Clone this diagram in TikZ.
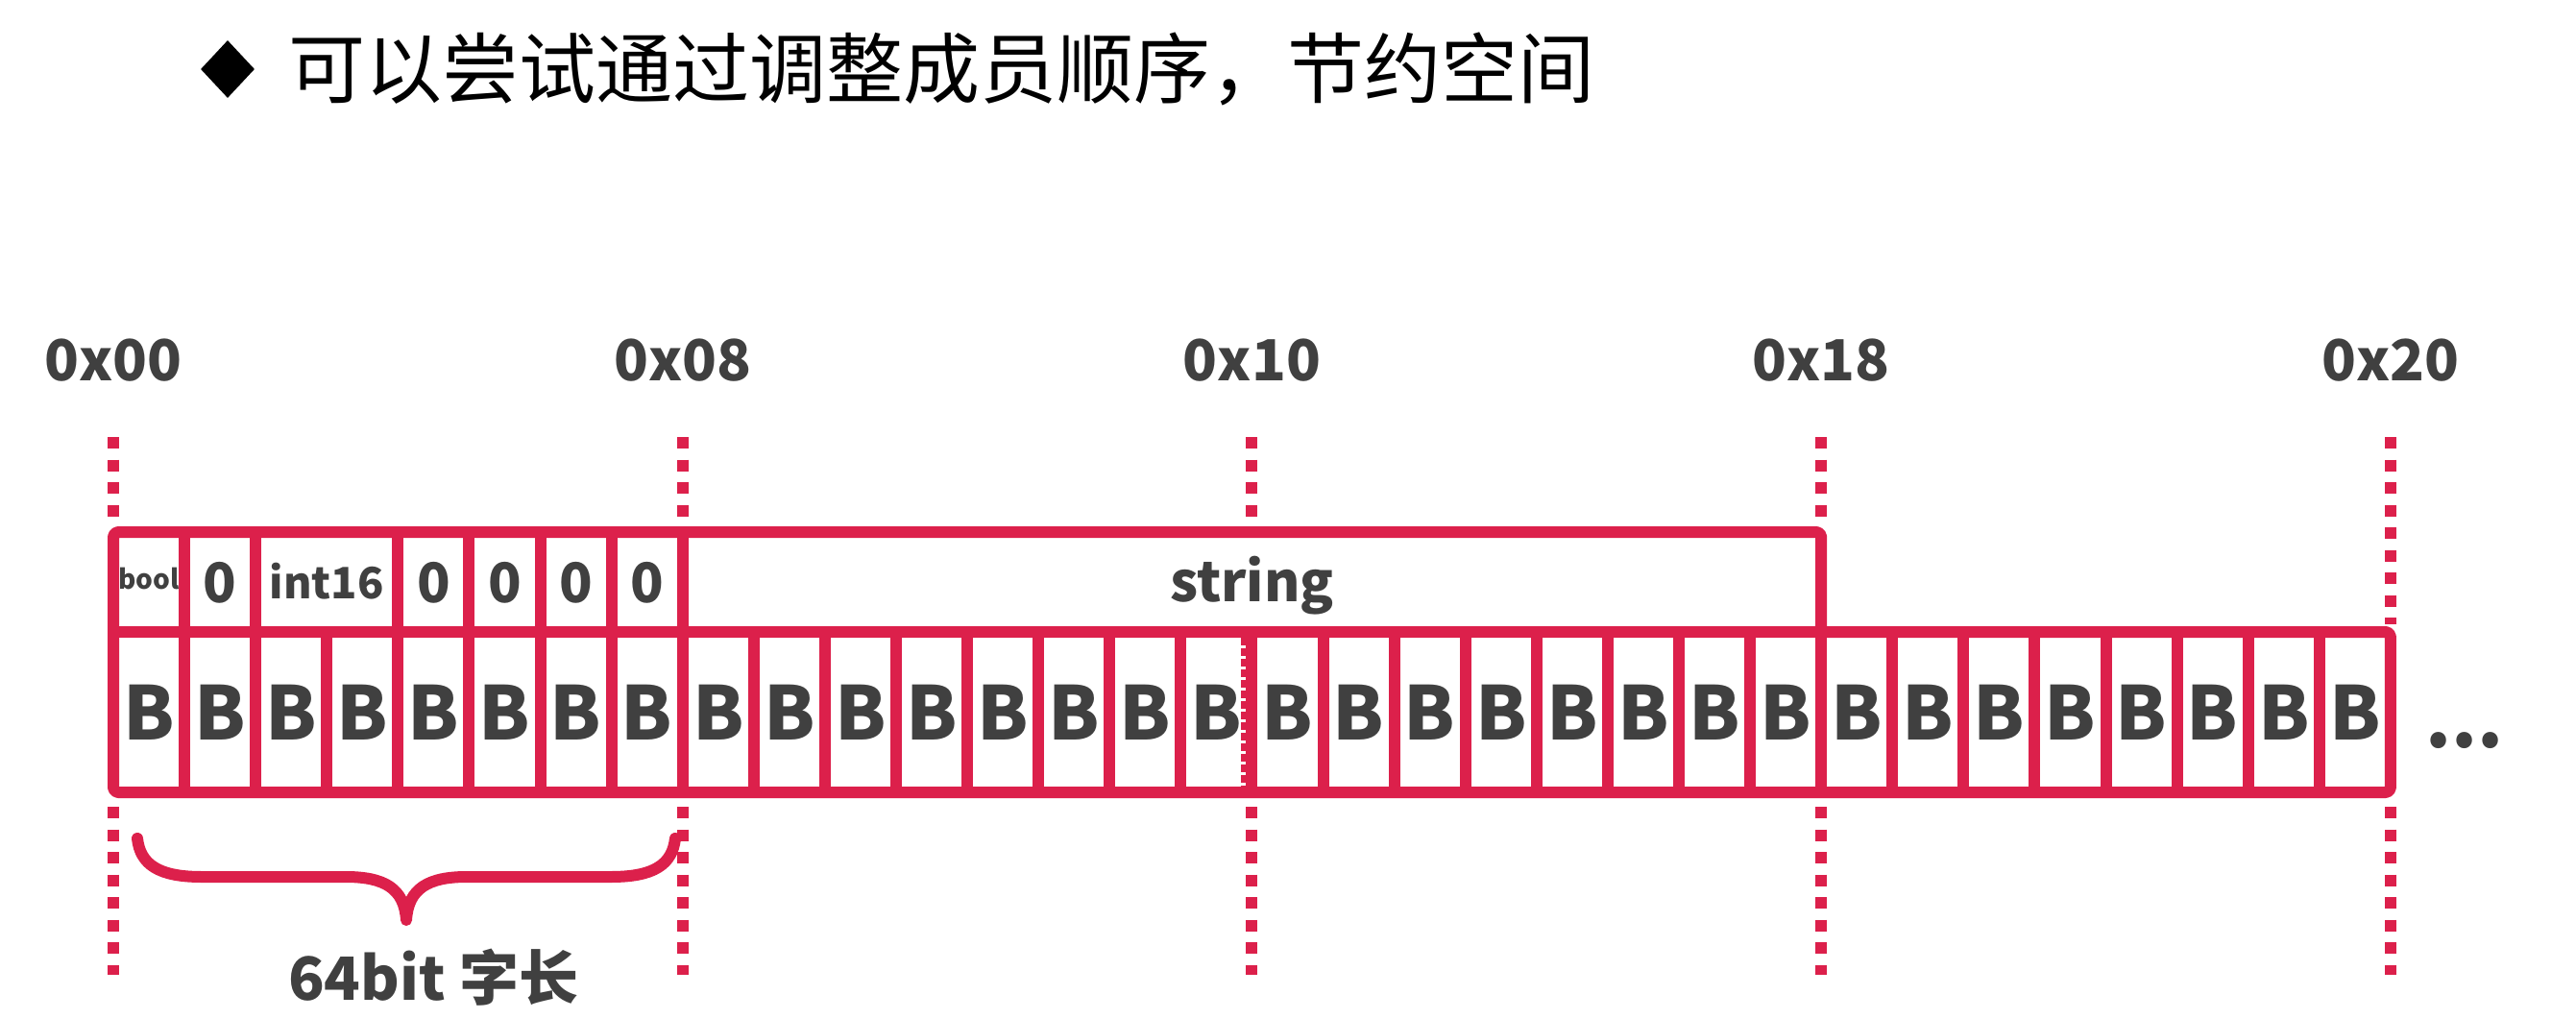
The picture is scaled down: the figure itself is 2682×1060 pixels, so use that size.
\documentclass[tikz,border=0pt]{standalone}
\usepackage{fontspec}
\setmainfont{Noto Sans CJK SC}
\usetikzlibrary{shapes.geometric}
\definecolor{memred}{RGB}{220,32,75}
\definecolor{txtgray}{RGB}{64,64,64}
\begin{document}
\begin{tikzpicture}[x=1pt,y=-1pt,
  frame/.style={draw=memred, line width=12pt, line join=round},
  sepline/.style={draw=memred, line width=12pt},
  guide/.style={draw=memred, line width=12pt, dash pattern=on 12pt off 11.5pt},
  addr/.style={text=txtgray, font=\bfseries\fontsize{59}{70}\selectfont, inner sep=0pt},
  bcell/.style={text=txtgray, font=\bfseries\fontsize{77}{90}\selectfont, inner sep=0pt},
  zcell/.style={text=txtgray, font=\bfseries\fontsize{57}{68}\selectfont, inner sep=0pt},
  brace/.style={draw=memred, line width=12pt, line cap=round, line join=round}
]
\path[use as bounding box, fill=white] (0,0) rectangle (2682,1060);
\def\xo{118}
\def\bw{74.09}
% title
\node[diamond, fill=black, minimum width=56pt, minimum height=60pt, inner sep=0pt] (bullet) at (237,72) {};
\node[anchor=west, inner sep=0pt, font=\fontsize{80}{96}\selectfont] (title) at (300,72) {可以尝试通过调整成员顺序，节约空间};
% address labels and guides
\foreach \k/\t in {0/0x00,1/0x08,2/0x10,3/0x18,4/0x20}{
  \pgfmathsetmacro{\gx}{\xo+8*\k*\bw}
  \node[addr] (a\k) at (\gx,375) {\t};
  \coordinate (gt\k) at (\gx,455);
  \coordinate (gb\k) at (\gx,840);
  \coordinate (ge\k) at (\gx,1015);
}
\foreach \k in {0,1,2,3}{
  \draw[guide] (gt\k) -- ++(0,83);
}
\draw[guide] (gt4) -- ++(0,195);
\foreach \k in {0,...,4}{
  \draw[guide] (gb\k) -- (ge\k);
}
% frame
\coordinate (tl) at (\xo,554);
\coordinate (tr) at (\xo+24*\bw,554);
\coordinate (mr) at (\xo+24*\bw,658);
\coordinate (ml) at (\xo,658);
\coordinate (rr) at (\xo+32*\bw,658);
\coordinate (br) at (\xo+32*\bw,825);
\coordinate (bl) at (\xo,825);
\draw[frame, rounded corners=5pt] (bl) -- (tl) -- (tr) -- (mr) -- (rr) -- (br) -- cycle;
\draw[sepline] (ml) -- (mr);
\foreach \k in {1,2,4,5,6,7,8}{
  \draw[sepline] (\xo+\k*\bw,554) -- (\xo+\k*\bw,658);
}
\foreach \k in {1,...,31}{
  \draw[sepline] (\xo+\k*\bw,658) -- (\xo+\k*\bw,825);
}
\draw[draw=memred, line width=5pt, dash pattern=on 8pt off 3pt] (\xo+16*\bw-9,664) -- (\xo+16*\bw-9,819);
% top row texts
\node[text=txtgray, font=\bfseries\fontsize{28}{34}\selectfont, inner sep=0pt] (fbool) at (\xo+0.5*\bw,603) {bool};
\node[zcell] (z1) at (\xo+1.5*\bw,607) {0};
\node[text=txtgray, font=\bfseries\fontsize{45}{54}\selectfont, inner sep=0pt] (fint) at (\xo+3*\bw,605) {int16};
\foreach \k in {4,5,6,7}{
  \node[zcell] (z\k) at (\xo+\k*\bw+0.5*\bw,607) {0};
}
\node[text=txtgray, font=\bfseries\fontsize{57}{68}\selectfont, inner sep=0pt] (fstr) at (\xo+16*\bw,610) {string};
% byte row
\foreach \k in {0,...,31}{
  \node[bcell] (b\k) at (\xo+\k*\bw+0.5*\bw,741.5) {B};
}
\node[bcell, anchor=base] (dots) at (2566,778) {...};
% brace
\coordinate (brL) at (143,873);
\coordinate (brR) at (703,873);
\coordinate (brM) at (423,958);
\draw[brace] (brL) .. controls (146,900) and (165,913) .. (210,913) -- (360,913)
  .. controls (400,913) and (421,925) .. (brM)
  .. controls (425,925) and (446,913) .. (486,913) -- (636,913)
  .. controls (681,913) and (700,900) .. (brR);
\node[text=txtgray, font=\bfseries\fontsize{62}{74}\selectfont, inner sep=0pt] (wlen) at (451,1018) {64bit 字长};
\end{tikzpicture}
\end{document}
